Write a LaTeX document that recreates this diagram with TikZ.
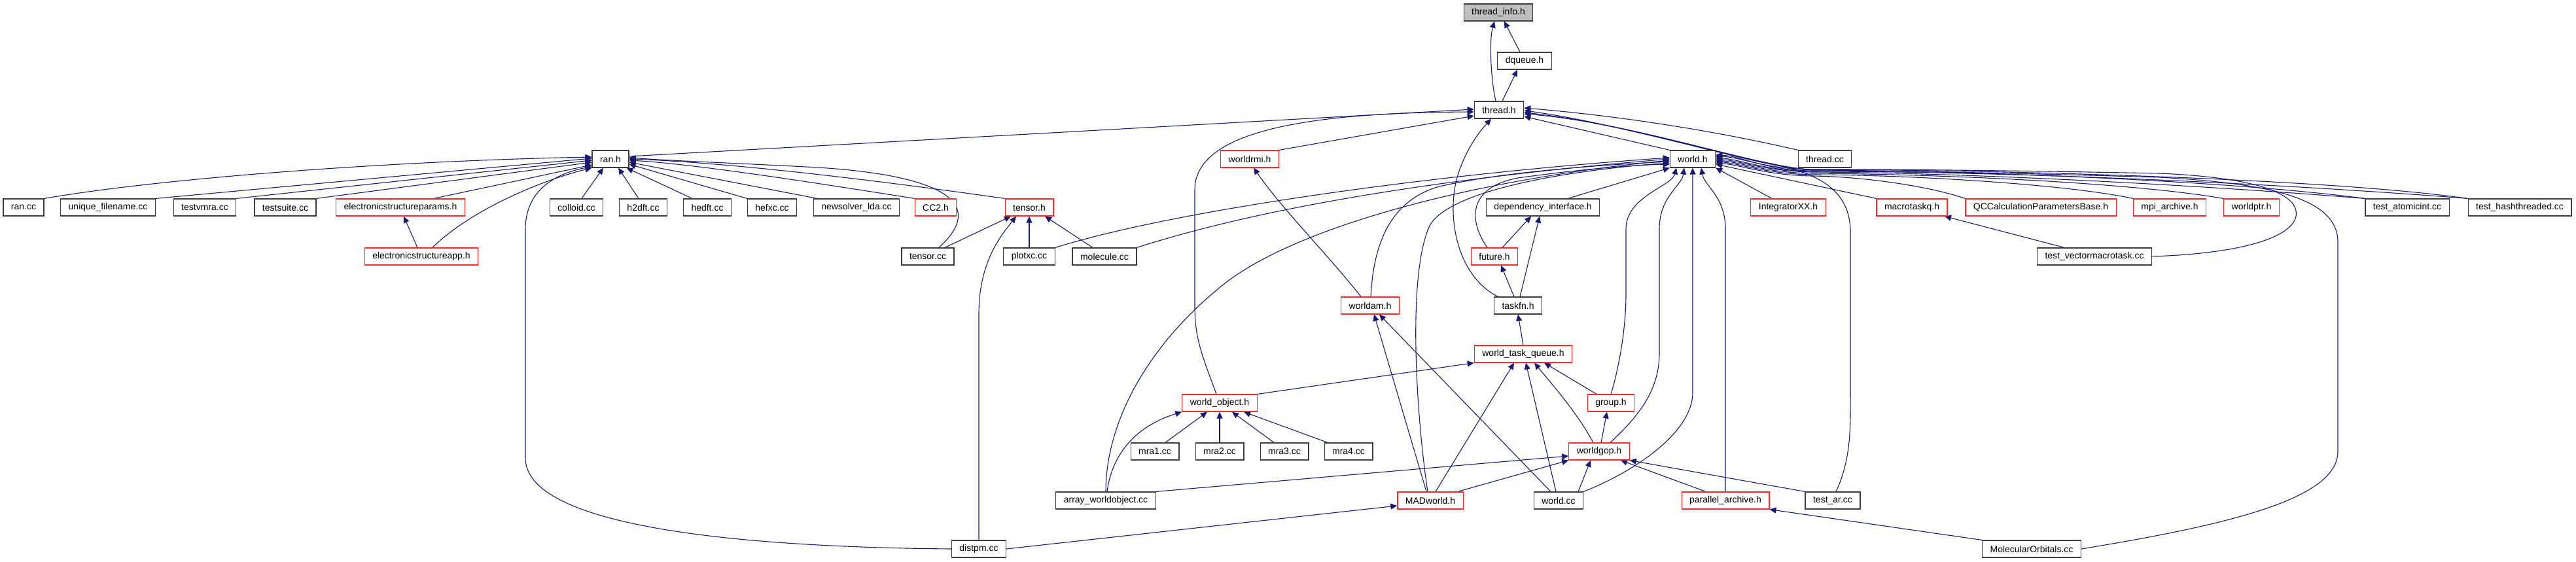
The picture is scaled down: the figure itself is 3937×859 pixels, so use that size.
\documentclass[tikz,border=0pt]{standalone}
\usepackage{fontspec}
\setmainfont{Liberation Sans}
\usetikzlibrary{arrows.meta}
\definecolor{edgec}{RGB}{25,25,112}
\definecolor{boxc}{RGB}{60,60,60}
\definecolor{redc}{RGB}{255,40,40}
\newcommand{\nfont}{\fontsize{14pt}{16pt}\selectfont}
\pgfdeclarelayer{bg}
\pgfsetlayers{bg,main}
\tikzset{
  nb/.style={draw=boxc, line width=1.2pt, inner xsep=12pt, inner ysep=0pt, minimum height=26pt, font=\nfont, fill=white},
  nr/.style={nb, draw=redc},
  ed/.style={draw=edgec, line width=1.1pt, -{Triangle[length=10pt,width=9pt]}}
}
\begin{document}
\begin{tikzpicture}[x=1pt,y=-1pt]
\path[use as bounding box] (0,0) rectangle (3937,859);
% row 0-3
\node[nb, fill=gray!50] (ti) at (2290,19) {thread\_info.h};
\node[nb] (dq) at (2330,93) {dqueue.h};
\node[nb] (th) at (2291,168) {thread.h};
\node[nb] (ranh) at (933,243) {ran.h};
\node[nr] (rmi) at (1910,243) {worldrmi.h};
\node[nb] (wh) at (2587,243) {world.h};
\node[nb] (thcc) at (2789,243) {thread.cc};
% row 4
\node[nb] (rancc) at (36,317) {ran.cc};
\node[nb] (uf) at (165,317) {unique\_filename.cc};
\node[nb] (tvmra) at (313,317) {testvmra.cc};
\node[nb] (tsuite) at (436,317) {testsuite.cc};
\node[nr] (esp) at (612,317) {electronicstructureparams.h};
\node[nb] (colloid) at (881,317) {colloid.cc};
\node[nb] (h2dft) at (983,317) {h2dft.cc};
\node[nb] (hedft) at (1081,317) {hedft.cc};
\node[nb] (hefxc) at (1180,317) {hefxc.cc};
\node[nb] (nlda) at (1309,317) {newsolver\_lda.cc};
\node[nr] (cc2) at (1430,317) {CC2.h};
\node[nr] (tensorh) at (1573,317) {tensor.h};
\node[nb] (dep) at (2358,317) {dependency\_interface.h};
\node[nr] (ixx) at (2733,317) {IntegratorXX.h};
\node[nr] (mtq) at (2922,317) {macrotaskq.h};
\node[nr] (qcc) at (3119,317) {QCCalculationParametersBase.h};
\node[nr] (mpi) at (3316,317) {mpi\_archive.h};
\node[nr] (wptr) at (3441,317) {worldptr.h};
\node[nb] (tai) at (3679,317) {test\_atomicint.cc};
\node[nb] (tht) at (3851,317) {test\_hashthreaded.cc};
% row 5
\node[nr] (esa) at (644,392) {electronicstructureapp.h};
\node[nb] (tensorcc) at (1418,392) {tensor.cc};
\node[nb] (plotxc) at (1573,392) {plotxc.cc};
\node[nb] (molcc) at (1688,392) {molecule.cc};
\node[nr] (future) at (2284,392) {future.h};
\node[nb] (tvmt) at (3201,392) {test\_vectormacrotask.cc};
% rows 6-11
\node[nr] (wam) at (2094,467) {worldam.h};
\node[nb] (taskfn) at (2320,467) {taskfn.h};
\node[nr] (wtq) at (2328,541) {world\_task\_queue.h};
\node[nr] (wobj) at (1864,616) {world\_object.h};
\node[nr] (group) at (2462,616) {group.h};
\node[nb] (mra1) at (1765,690) {mra1.cc};
\node[nb] (mra2) at (1864,690) {mra2.cc};
\node[nb] (mra3) at (1963,690) {mra3.cc};
\node[nb] (mra4) at (2061,690) {mra4.cc};
\node[nr] (wgop) at (2444,690) {worldgop.h};
\node[nb] (awo) at (1690,765) {array\_worldobject.cc};
\node[nr] (madw) at (2186,765) {MADworld.h};
\node[nb] (wcc) at (2382,765) {world.cc};
\node[nr] (par) at (2637,765) {parallel\_archive.h};
\node[nb] (tar) at (2801,765) {test\_ar.cc};
\node[nb] (distpm) at (1496,839) {distpm.cc};
\node[nb] (mo) at (3105,839) {MolecularOrbitals.cc};

\begin{pgfonlayer}{bg}
% ---- edges: top
\draw[ed] ([shift={(-5,0)}]th.north) .. controls (2278,120) and (2276,60) .. ([shift={(-6,0)}]ti.south);
\draw[ed] ([shift={(-7,0)}]dq.north) -- ([shift={(9,0)}]ti.south);
\draw[ed] ([shift={(5,0)}]th.north) -- ([shift={(-11,0)}]dq.south);
% ---- ran.h
\draw[ed] ([shift={(0,-4)}]ranh.east) -- ([shift={(0,-1)}]th.west);
\draw[ed] (rancc.north east) .. controls (250,272) and (600,246) .. ([shift={(0,-3)}]ranh.west);
\draw[ed] (uf.north east) -- ([shift={(0,-1)}]ranh.west);
\draw[ed] (tvmra.north east) -- ([shift={(0,2)}]ranh.west);
\draw[ed] (tsuite.north east) -- ([shift={(0,5)}]ranh.west);
\draw[ed] ([shift={(51,0)}]esp.north) -- ([shift={(0,9)}]ranh.west);
\draw[ed] ([shift={(17,0)}]esa.north) .. controls (720,320) and (830,275) .. (ranh.south west);
\draw[ed] ([shift={(-6,0)}]esa.north) -- ([shift={(5,0)}]esp.south);
\draw[ed] ([shift={(8,0)}]colloid.north) -- ([shift={(-11,0)}]ranh.south);
\draw[ed] ([shift={(-7,0)}]h2dft.north) -- ([shift={(12,0)}]ranh.south);
\draw[ed] ([shift={(-23,0)}]hedft.north) -- ([shift={(-4,0)}]ranh.south east);
\draw[ed] (hefxc.north west) -- ([shift={(0,8)}]ranh.east);
\draw[ed] ([shift={(-60,0)}]nlda.north) -- ([shift={(0,5)}]ranh.east);
\draw[ed] (cc2.north west) .. controls (1200,272) and (1050,250) .. ([shift={(0,2)}]ranh.east);
\draw[ed] (tensorh.north west) .. controls (1300,270) and (1100,248) .. ([shift={(0,0)}]ranh.east);
\draw[ed] ([shift={(17,0)}]tensorcc.north) .. controls (1510,310) and (1440,268) .. (1250,256) .. controls (1120,249) and (1030,246) .. ([shift={(0,-2)}]ranh.east);
\draw[ed] (distpm.west) .. controls (1100,836) and (803,800) .. (803,700) -- (803,350) .. controls (803,290) and (850,265) .. ([shift={(0,-2)}]ranh.south west);
% ---- tensor.h
\draw[ed] ([shift={(26,0)}]tensorcc.north) -- ([shift={(-28,0)}]tensorh.south);
\draw[ed] (plotxc.north) -- (tensorh.south);
\draw[ed] ([shift={(-18,0)}]molcc.north) -- ([shift={(24,0)}]tensorh.south);
\draw[ed] (distpm.north) -- (1496,480) .. controls (1496,400) and (1530,360) .. ([shift={(-20,0)}]tensorh.south);
% ---- thread.h
\draw[ed] ([shift={(-5,0)}]wobj.north) .. controls (1840,550) and (1826,520) .. (1826,470) -- (1826,290) .. controls (1826,200) and (2000,172) .. ([shift={(0,3)}]th.west);
\draw[ed] (rmi.north east) -- ([shift={(0,9)}]th.west);
\draw[ed] ([shift={(-31,0)}]taskfn.north) .. controls (2225,420) and (2212,330) .. (2226,275) .. controls (2238,230) and (2262,200) .. ([shift={(-12,0)}]th.south);
\draw[ed] (wh.north west) -- ([shift={(0,10)}]th.east);
\draw[ed] (thcc.north west) .. controls (2600,195) and (2450,175) .. ([shift={(0,-3)}]th.east);
\draw[ed] ([shift={(5,0)}]tar.north) .. controls (2830,700) and (2828,650) .. (2828,600) -- (2828,350) .. controls (2825,290) and (2780,264) .. (2700,249) .. controls (2600,228) and (2450,185) .. ([shift={(0,1)}]th.east);
\draw[ed] (tai.north west) .. controls (3400,275) and (3000,261) .. (2770,260) .. controls (2690,258) and (2500,190) .. ([shift={(0,4)}]th.east);
\draw[ed] (tht.north west) .. controls (3550,272) and (3050,260) .. (2770,259) .. controls (2690,257) and (2500,188) .. ([shift={(0,6)}]th.east);
% ---- world.h right side
\draw[ed] ([shift={(-25,0)}]ixx.north) -- (wh.south east);
\draw[ed] (mtq.north west) -- ([shift={(0,8)}]wh.east);
\draw[ed] (qcc.north west) .. controls (2950,285) and (2850,270) .. (2770,269) .. controls (2700,268) and (2660,252) .. ([shift={(0,6)}]wh.east);
\draw[ed] (mpi.north west) .. controls (3150,280) and (2900,267) .. (2770,267) .. controls (2700,266) and (2660,250) .. ([shift={(0,4)}]wh.east);
\draw[ed] (wptr.north west) .. controls (3250,278) and (2950,266) .. (2770,265) .. controls (2700,264) and (2660,248) .. ([shift={(0,2)}]wh.east);
\draw[ed] (tai.north west) .. controls (3350,282) and (3000,264) .. (2770,263) .. controls (2700,262) and (2660,246) .. (wh.east);
\draw[ed] (tht.north west) .. controls (3450,278) and (3050,262) .. (2770,262) .. controls (2700,261) and (2660,244) .. ([shift={(0,-2)}]wh.east);
\draw[ed] (tvmt.east) .. controls (3460,386) and (3515,352) .. (3509,322) .. controls (3502,288) and (3420,270) .. (3300,265) .. controls (3000,259) and (2850,259) .. (2770,259) .. controls (2700,259) and (2660,240) .. ([shift={(0,-4)}]wh.east);
\draw[ed] (mo.east) .. controls (3420,800) and (3573,760) .. (3573,690) -- (3573,370) .. controls (3573,300) and (3460,280) .. (3300,271) .. controls (3000,262) and (2850,261) .. (2770,261) .. controls (2700,261) and (2660,238) .. ([shift={(0,-6)}]wh.east);
\draw[ed] ([shift={(-46,0)}]tvmt.north) -- ([shift={(50,0)}]mtq.south);
% ---- world.h bottom
\draw[ed] (group.north) .. controls (2475,560) and (2485,500) .. (2485,450) -- (2485,350) .. controls (2485,300) and (2555,285) .. ([shift={(-25,0)}]wh.south);
\draw[ed] ([shift={(17,0)}]wgop.north) .. controls (2500,640) and (2536,600) .. (2536,540) -- (2536,350) .. controls (2536,300) and (2570,285) .. ([shift={(-13,0)}]wh.south);
\draw[ed] (wcc.north east) .. controls (2500,720) and (2587,660) .. (2587,600) -- (wh.south);
\draw[ed] (par.north) -- (2637,350) .. controls (2637,300) and (2605,285) .. ([shift={(13,0)}]wh.south);
% ---- world.h left side
\draw[ed] ([shift={(38,0)}]dep.north) -- (wh.south west);
\draw[ed] ([shift={(-11,0)}]future.north) .. controls (2240,330) and (2250,285) .. (2320,272) .. controls (2420,258) and (2500,252) .. ([shift={(0,8)}]wh.west);
\draw[ed] (plotxc.north east) .. controls (1800,320) and (2200,265) .. ([shift={(0,-2)}]wh.west);
\draw[ed] (molcc.north east) .. controls (1950,310) and (2250,268) .. (wh.west);
\draw[ed] (awo.north) .. controls (1690,640) and (1760,520) .. (1876,430) .. controls (1990,345) and (2250,275) .. ([shift={(0,2)}]wh.west);
\draw[ed] ([shift={(1,0)}]wam.north) .. controls (2098,400) and (2110,310) .. (2200,285) .. controls (2300,262) and (2450,252) .. ([shift={(0,4)}]wh.west);
\draw[ed] ([shift={(-4,0)}]madw.north) .. controls (2165,640) and (2150,420) .. (2185,345) .. controls (2215,290) and (2400,260) .. ([shift={(0,6)}]wh.west);
% ---- others
\draw[ed] ([shift={(-14,0)}]wam.north) .. controls (2030,390) and (1960,320) .. ([shift={(6,0)}]rmi.south);
\draw[ed] ([shift={(-6,0)}]taskfn.north) -- ([shift={(10,0)}]future.south);
\draw[ed] ([shift={(3,0)}]taskfn.north) -- ([shift={(-5,0)}]dep.south);
\draw[ed] ([shift={(12,0)}]future.north) -- ([shift={(-18,0)}]dep.south);
\draw[ed] (wtq.north) -- (taskfn.south);
\draw[ed] (wobj.north east) -- (wtq.south west);
\draw[ed] ([shift={(8,0)}]madw.north) -- ([shift={(-14,0)}]wtq.south);
\draw[ed] ([shift={(-4,0)}]wcc.north) -- ([shift={(4,0)}]wtq.south);
\draw[ed] ([shift={(-9,0)}]wgop.north) .. controls (2410,630) and (2370,585) .. ([shift={(17,0)}]wtq.south);
\draw[ed] ([shift={(-22,0)}]group.north) -- ([shift={(32,0)}]wtq.south);
\draw[ed] ([shift={(3,0)}]wgop.north) -- ([shift={(-6,0)}]group.south);
\draw[ed] ([shift={(16,0)}]mra1.north) -- ([shift={(-19,0)}]wobj.south);
\draw[ed] (mra2.north) -- (wobj.south);
\draw[ed] ([shift={(-16,0)}]mra3.north) -- ([shift={(19,0)}]wobj.south);
\draw[ed] ([shift={(-32,0)}]mra4.north) -- ([shift={(37,0)}]wobj.south);
\draw[ed] ([shift={(2,0)}]awo.north) .. controls (1700,690) and (1740,650) .. (wobj.south west);
\draw[ed] ([shift={(-6,0)}]madw.north) -- ([shift={(6,0)}]wam.south);
\draw[ed] ([shift={(-12,0)}]wcc.north) -- ([shift={(14,0)}]wam.south);
\draw[ed] (distpm.east) -- ([shift={(0,8)}]madw.west);
\draw[ed] (awo.north east) -- ([shift={(0,7)}]wgop.west);
\draw[ed] ([shift={(42,0)}]madw.north) -- (wgop.south west);
\draw[ed] ([shift={(30,0)}]wcc.north) -- ([shift={(-13,0)}]wgop.south);
\draw[ed] ([shift={(-30,0)}]par.north) -- ([shift={(33,0)}]wgop.south);
\draw[ed] (tar.north west) -- (wgop.south east);
\draw[ed] (mo.north west) -- (par.south east);
\end{pgfonlayer}
\end{tikzpicture}
\end{document}
